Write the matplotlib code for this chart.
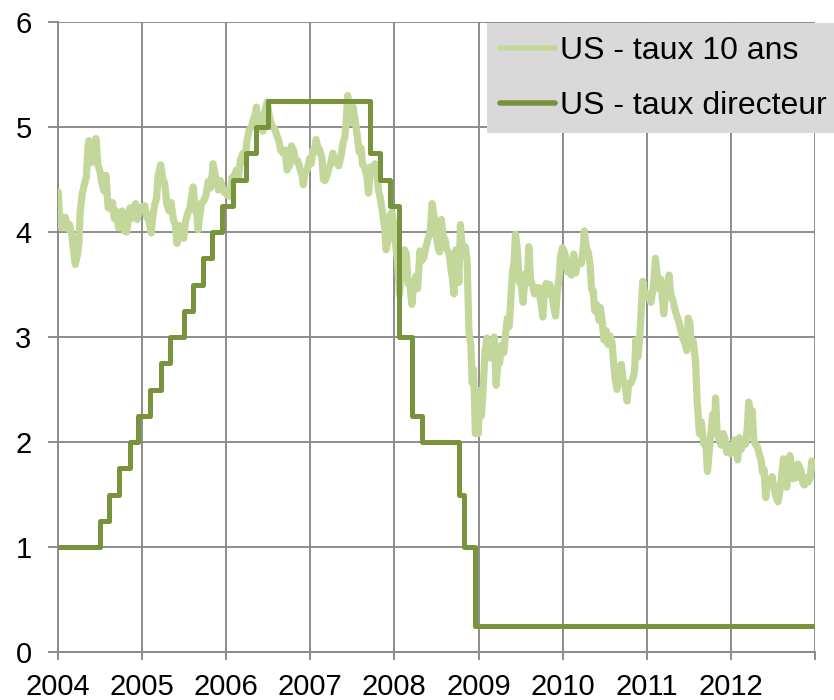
"""
US 10y yield vs policy rate, 2004-2012
Run: python plot.py
"""

import matplotlib
matplotlib.use('Agg')
import matplotlib.pyplot as plt
import pandas as pd

# --- data ----------------------------------------------------------------

# US 10-year yield, %, irregular sample dates
y10_dates = [
    "2004-01-02", "2004-01-09", "2004-01-16", "2004-01-23", "2004-02-02", "2004-02-11", "2004-02-20",
    "2004-03-01", "2004-03-10", "2004-03-16", "2004-03-25", "2004-04-01", "2004-04-06", "2004-04-15",
    "2004-04-23", "2004-05-03", "2004-05-10", "2004-05-14", "2004-05-24", "2004-06-01", "2004-06-14",
    "2004-06-22", "2004-07-01", "2004-07-09", "2004-07-19", "2004-07-27", "2004-08-06", "2004-08-16",
    "2004-08-25", "2004-09-01", "2004-09-10", "2004-09-20", "2004-09-28", "2004-10-06", "2004-10-15",
    "2004-10-25", "2004-11-01", "2004-11-09", "2004-11-17", "2004-11-26", "2004-12-03", "2004-12-10",
    "2004-12-20", "2004-12-31",
    "2005-01-03", "2005-01-12", "2005-01-20", "2005-01-28", "2005-02-09", "2005-02-17", "2005-02-25",
    "2005-03-04", "2005-03-11", "2005-03-22", "2005-03-31", "2005-04-08", "2005-04-18", "2005-04-28",
    "2005-05-06", "2005-05-16", "2005-05-25", "2005-06-01", "2005-06-10", "2005-06-20", "2005-06-30",
    "2005-07-08", "2005-07-18", "2005-07-27", "2005-08-04", "2005-08-10", "2005-08-19", "2005-08-26",
    "2005-09-01", "2005-09-08", "2005-09-16", "2005-09-26", "2005-10-05", "2005-10-14", "2005-10-24",
    "2005-11-02", "2005-11-04", "2005-11-15", "2005-11-28", "2005-12-06", "2005-12-15", "2005-12-22",
    "2005-12-30",
    "2006-01-05", "2006-01-17", "2006-01-26", "2006-02-03", "2006-02-14", "2006-02-23", "2006-03-03",
    "2006-03-14", "2006-03-24", "2006-03-31", "2006-04-10", "2006-04-20", "2006-04-28", "2006-05-05",
    "2006-05-12", "2006-05-19", "2006-05-26", "2006-06-02", "2006-06-09", "2006-06-16", "2006-06-28",
    "2006-07-07", "2006-07-14", "2006-07-21", "2006-07-31", "2006-08-08", "2006-08-16", "2006-08-25",
    "2006-09-05", "2006-09-14", "2006-09-22", "2006-10-02", "2006-10-11", "2006-10-20", "2006-10-30",
    "2006-11-07", "2006-11-15", "2006-11-27", "2006-12-01", "2006-12-08", "2006-12-18", "2006-12-29",
    "2007-01-05", "2007-01-12", "2007-01-19", "2007-01-26", "2007-02-02", "2007-02-09", "2007-02-20",
    "2007-02-27", "2007-03-05", "2007-03-15", "2007-03-23", "2007-03-30", "2007-04-09", "2007-04-18",
    "2007-04-27", "2007-05-04", "2007-05-14", "2007-05-24", "2007-05-31", "2007-06-07", "2007-06-12",
    "2007-06-20", "2007-06-28", "2007-07-06", "2007-07-16", "2007-07-24", "2007-08-01", "2007-08-09",
    "2007-08-16", "2007-08-24", "2007-09-04", "2007-09-11", "2007-09-20", "2007-09-28", "2007-10-09",
    "2007-10-17", "2007-10-25", "2007-11-02", "2007-11-09", "2007-11-20", "2007-11-26", "2007-12-05",
    "2007-12-13", "2007-12-21", "2007-12-31",
    "2008-01-07", "2008-01-15", "2008-01-23", "2008-01-31", "2008-02-07", "2008-02-14", "2008-02-22",
    "2008-02-29", "2008-03-07", "2008-03-17", "2008-03-26", "2008-04-03", "2008-04-11", "2008-04-21",
    "2008-04-30", "2008-05-09", "2008-05-16", "2008-05-27", "2008-06-04", "2008-06-13", "2008-06-20",
    "2008-06-30", "2008-07-08", "2008-07-15", "2008-07-23", "2008-07-31", "2008-08-08", "2008-08-15",
    "2008-08-26", "2008-09-04", "2008-09-09", "2008-09-16", "2008-09-24", "2008-10-01", "2008-10-07",
    "2008-10-14", "2008-10-20", "2008-10-27", "2008-11-04", "2008-11-12", "2008-11-20", "2008-11-28",
    "2008-12-04", "2008-12-10", "2008-12-18", "2008-12-24", "2008-12-30",
    "2009-01-06", "2009-01-13", "2009-01-21", "2009-01-29", "2009-02-06", "2009-02-13", "2009-02-23",
    "2009-03-03", "2009-03-10", "2009-03-18", "2009-03-26", "2009-04-02", "2009-04-10", "2009-04-20",
    "2009-04-28", "2009-05-06", "2009-05-14", "2009-05-21", "2009-05-28", "2009-06-04", "2009-06-10",
    "2009-06-18", "2009-06-26", "2009-07-06", "2009-07-13", "2009-07-22", "2009-07-31", "2009-08-07",
    "2009-08-14", "2009-08-24", "2009-09-01", "2009-09-10", "2009-09-18", "2009-09-30", "2009-10-07",
    "2009-10-14", "2009-10-22", "2009-10-30", "2009-11-06", "2009-11-13", "2009-11-24", "2009-12-01",
    "2009-12-08", "2009-12-16", "2009-12-23", "2009-12-31",
    "2010-01-07", "2010-01-14", "2010-01-22", "2010-02-01", "2010-02-08", "2010-02-18", "2010-02-26",
    "2010-03-05", "2010-03-12", "2010-03-23", "2010-03-31", "2010-04-05", "2010-04-13", "2010-04-22",
    "2010-04-30", "2010-05-07", "2010-05-14", "2010-05-20", "2010-05-28", "2010-06-07", "2010-06-14",
    "2010-06-23", "2010-06-30", "2010-07-09", "2010-07-16", "2010-07-26", "2010-08-03", "2010-08-10",
    "2010-08-17", "2010-08-25", "2010-09-03", "2010-09-13", "2010-09-22", "2010-09-30", "2010-10-08",
    "2010-10-15", "2010-10-25", "2010-11-02", "2010-11-09", "2010-11-15", "2010-11-24", "2010-12-02",
    "2010-12-08", "2010-12-15", "2010-12-23", "2010-12-30",
    "2011-01-06", "2011-01-12", "2011-01-19", "2011-01-27", "2011-02-03", "2011-02-08", "2011-02-16",
    "2011-02-24", "2011-03-03", "2011-03-10", "2011-03-16", "2011-03-25", "2011-04-01", "2011-04-08",
    "2011-04-15", "2011-04-26", "2011-05-04", "2011-05-12", "2011-05-20", "2011-05-31", "2011-06-08",
    "2011-06-16", "2011-06-24", "2011-06-30", "2011-07-07", "2011-07-14", "2011-07-22", "2011-08-01",
    "2011-08-08", "2011-08-18", "2011-08-26", "2011-09-06", "2011-09-14", "2011-09-22", "2011-09-30",
    "2011-10-07", "2011-10-14", "2011-10-24", "2011-10-27", "2011-11-03", "2011-11-10", "2011-11-21",
    "2011-11-30", "2011-12-07", "2011-12-15", "2011-12-22", "2011-12-30",
    "2012-01-03", "2012-01-10", "2012-01-19", "2012-01-31", "2012-02-07", "2012-02-15", "2012-02-24",
    "2012-03-05", "2012-03-13", "2012-03-19", "2012-03-27", "2012-04-03", "2012-04-10", "2012-04-19",
    "2012-04-27", "2012-05-04", "2012-05-11", "2012-05-18", "2012-05-25", "2012-06-01", "2012-06-08",
    "2012-06-15", "2012-06-20", "2012-06-29", "2012-07-06", "2012-07-13", "2012-07-24", "2012-07-31",
    "2012-08-07", "2012-08-17", "2012-08-24", "2012-08-31", "2012-09-07", "2012-09-14", "2012-09-21",
    "2012-09-28", "2012-10-05", "2012-10-12", "2012-10-19", "2012-10-26", "2012-11-02", "2012-11-09",
    "2012-11-16", "2012-11-26", "2012-12-03", "2012-12-11", "2012-12-18", "2012-12-24", "2012-12-31",
]
y10_rates = [
    4.38, 4.08, 4.04, 4.14, 4.14, 4.03, 4.07, 3.97, 3.80, 3.69, 3.78, 3.90, 4.19, 4.36,
    4.44, 4.52, 4.80, 4.87, 4.66, 4.70, 4.89, 4.64, 4.58, 4.47, 4.39, 4.54, 4.23, 4.22,
    4.28, 4.13, 4.20, 4.04, 4.05, 4.20, 4.01, 4.00, 4.11, 4.23, 4.13, 4.22, 4.27, 4.12,
    4.22, 4.24,
    4.23, 4.25, 4.14, 4.13, 3.99, 4.17, 4.27, 4.32, 4.54, 4.64, 4.50, 4.47, 4.26, 4.20,
    4.28, 4.12, 4.06, 3.89, 4.06, 3.95, 3.94, 4.10, 4.18, 4.23, 4.34, 4.43, 4.21, 4.17,
    4.02, 4.16, 4.28, 4.30, 4.35, 4.48, 4.42, 4.57, 4.65, 4.53, 4.40, 4.49, 4.43, 4.38,
    4.39,
    4.35, 4.34, 4.52, 4.53, 4.59, 4.53, 4.68, 4.75, 4.67, 4.86, 4.97, 5.00, 5.07, 5.11,
    5.19, 5.01, 5.05, 4.99, 4.96, 5.14, 5.24, 5.10, 5.04, 5.00, 4.98, 4.92, 4.88, 4.78,
    4.75, 4.78, 4.59, 4.63, 4.82, 4.78, 4.67, 4.68, 4.62, 4.53, 4.45, 4.56, 4.59, 4.70,
    4.65, 4.78, 4.76, 4.88, 4.81, 4.79, 4.71, 4.50, 4.49, 4.54, 4.61, 4.65, 4.75, 4.66,
    4.70, 4.63, 4.72, 4.86, 4.90, 5.10, 5.30, 5.18, 5.04, 5.19, 5.04, 4.91, 4.76, 4.80,
    4.64, 4.62, 4.52, 4.37, 4.62, 4.59, 4.65, 4.56, 4.39, 4.31, 4.21, 4.04, 3.83, 3.93,
    4.16, 4.19, 4.04,
    3.87, 3.71, 3.40, 3.64, 3.68, 3.83, 3.79, 3.51, 3.52, 3.31, 3.51, 3.58, 3.46, 3.82,
    3.73, 3.76, 3.85, 3.94, 3.98, 4.27, 4.17, 3.99, 3.86, 3.81, 4.12, 3.95, 3.93, 3.84,
    3.79, 3.63, 3.56, 3.41, 3.83, 3.78, 3.52, 4.07, 3.89, 3.82, 3.86, 3.73, 3.04, 2.93,
    2.56, 2.69, 2.08, 2.16, 2.08,
    2.49, 2.25, 2.53, 2.87, 2.99, 2.89, 2.80, 2.87, 3.00, 2.54, 2.77, 2.75, 2.92, 2.85,
    3.03, 3.18, 3.10, 3.37, 3.62, 3.71, 3.98, 3.84, 3.53, 3.48, 3.33, 3.60, 3.52, 3.86,
    3.56, 3.48, 3.41, 3.47, 3.47, 3.31, 3.19, 3.47, 3.51, 3.41, 3.50, 3.43, 3.28, 3.20,
    3.42, 3.56, 3.77, 3.85,
    3.82, 3.76, 3.62, 3.63, 3.59, 3.79, 3.61, 3.69, 3.71, 3.70, 3.84, 4.01, 3.86, 3.81,
    3.69, 3.45, 3.44, 3.25, 3.31, 3.16, 3.28, 3.12, 2.97, 3.06, 2.93, 3.01, 2.95, 2.76,
    2.60, 2.50, 2.71, 2.74, 2.57, 2.53, 2.39, 2.56, 2.56, 2.61, 2.67, 2.97, 2.81, 3.00,
    3.24, 3.53, 3.39, 3.38,
    3.41, 3.37, 3.33, 3.43, 3.58, 3.75, 3.58, 3.46, 3.55, 3.37, 3.22, 3.45, 3.44, 3.59,
    3.41, 3.34, 3.26, 3.20, 3.15, 3.05, 2.98, 2.94, 2.87, 3.18, 3.14, 2.92, 2.96, 2.77,
    2.40, 2.08, 2.19, 1.98, 2.01, 1.72, 1.92, 2.08, 2.26, 2.23, 2.42, 2.09, 2.03, 1.97,
    2.08, 2.03, 1.90, 1.96, 1.89,
    1.97, 1.94, 2.02, 1.83, 2.04, 1.93, 1.98, 1.98, 2.13, 2.38, 2.24, 2.30, 2.02, 1.97,
    1.95, 1.88, 1.84, 1.71, 1.74, 1.47, 1.64, 1.58, 1.64, 1.67, 1.57, 1.50, 1.43, 1.51,
    1.63, 1.84, 1.68, 1.57, 1.68, 1.87, 1.77, 1.65, 1.74, 1.66, 1.79, 1.76, 1.72, 1.61,
    1.59, 1.66, 1.62, 1.66, 1.82, 1.77, 1.78,
]

# US policy rate (fed funds target), %, value from each date on
policy_dates = [
    "2004-01-01", "2004-06-30", "2004-08-10", "2004-09-21", "2004-11-10", "2004-12-14",
    "2005-02-02", "2005-03-22", "2005-05-03", "2005-06-30", "2005-08-09", "2005-09-20",
    "2005-11-01", "2005-12-13", "2006-01-31", "2006-03-28", "2006-05-10", "2006-06-29",
    "2007-09-18", "2007-10-31", "2007-12-11", "2008-01-22", "2008-03-18", "2008-04-30",
    "2008-10-08", "2008-10-29", "2008-12-16", "2012-12-31",
]
policy_rates = [
    1.00, 1.25, 1.50, 1.75, 2.00, 2.25,
    2.50, 2.75, 3.00, 3.25, 3.50, 3.75,
    4.00, 4.25, 4.50, 4.75, 5.00, 5.25,
    4.75, 4.50, 4.25, 3.00, 2.25, 2.00,
    1.50, 1.00, 0.25, 0.25,
]

years = list(range(2004, 2014))
year_labels = [str(y) for y in years[:-1]] + [""]

# --- style -----------------------------------------------------------------

LIGHT = "#c4d79b"
DARK = "#77933c"
GRID = "#8c8c8c"

plt.rcParams['font.family'] = ['Liberation Sans', 'DejaVu Sans']

fig = plt.figure(figsize=(8.34, 7.0), dpi=100)
ax = fig.add_axes([58 / 834, 1 - 652 / 700, (815 - 58) / 834, (652 - 22) / 700])

ax.plot(pd.to_datetime(y10_dates), y10_rates, color=LIGHT, lw=5.2,
        solid_joinstyle='round', solid_capstyle='round',
        label="US - taux 10 ans", zorder=3)
ax.plot(pd.to_datetime(policy_dates), policy_rates, color=DARK, lw=3.6,
        drawstyle='steps-post', solid_capstyle='round',
        label="US - taux directeur", zorder=4)

ax.set_xlim(pd.Timestamp("2004-01-01"), pd.Timestamp("2013-01-01"))
ax.set_ylim(0, 6)

ax.set_xticks([pd.Timestamp(f"{y}-01-01") for y in years])
ax.set_xticklabels(year_labels)
ax.set_yticks(range(0, 7))

ax.grid(True, color=GRID, lw=1.4)
ax.set_axisbelow(True)
for side in ('top', 'right'):
    ax.spines[side].set_visible(False)
for side in ('left', 'bottom'):
    ax.spines[side].set_color(GRID)
    ax.spines[side].set_linewidth(1.4)

ax.tick_params(axis='both', colors=GRID, labelcolor='black', labelsize=21,
               direction='out', width=1.4)
ax.tick_params(axis='x', length=6, pad=9)
ax.tick_params(axis='y', length=7, pad=12)

leg = ax.legend(loc='upper left', bbox_to_anchor=(487 / 834, 1 - 23 / 700),
                bbox_transform=fig.transFigure, borderaxespad=0,
                fontsize=23, frameon=True, fancybox=False,
                facecolor='#d9d9d9', edgecolor='none', framealpha=1,
                handlelength=1.72, handletextpad=0.16, borderpad=0.4,
                labelspacing=0.78)
for line in leg.get_lines():
    line.set_linewidth(4.0)

fig.savefig("out.png", dpi=100)
plt.close(fig)
